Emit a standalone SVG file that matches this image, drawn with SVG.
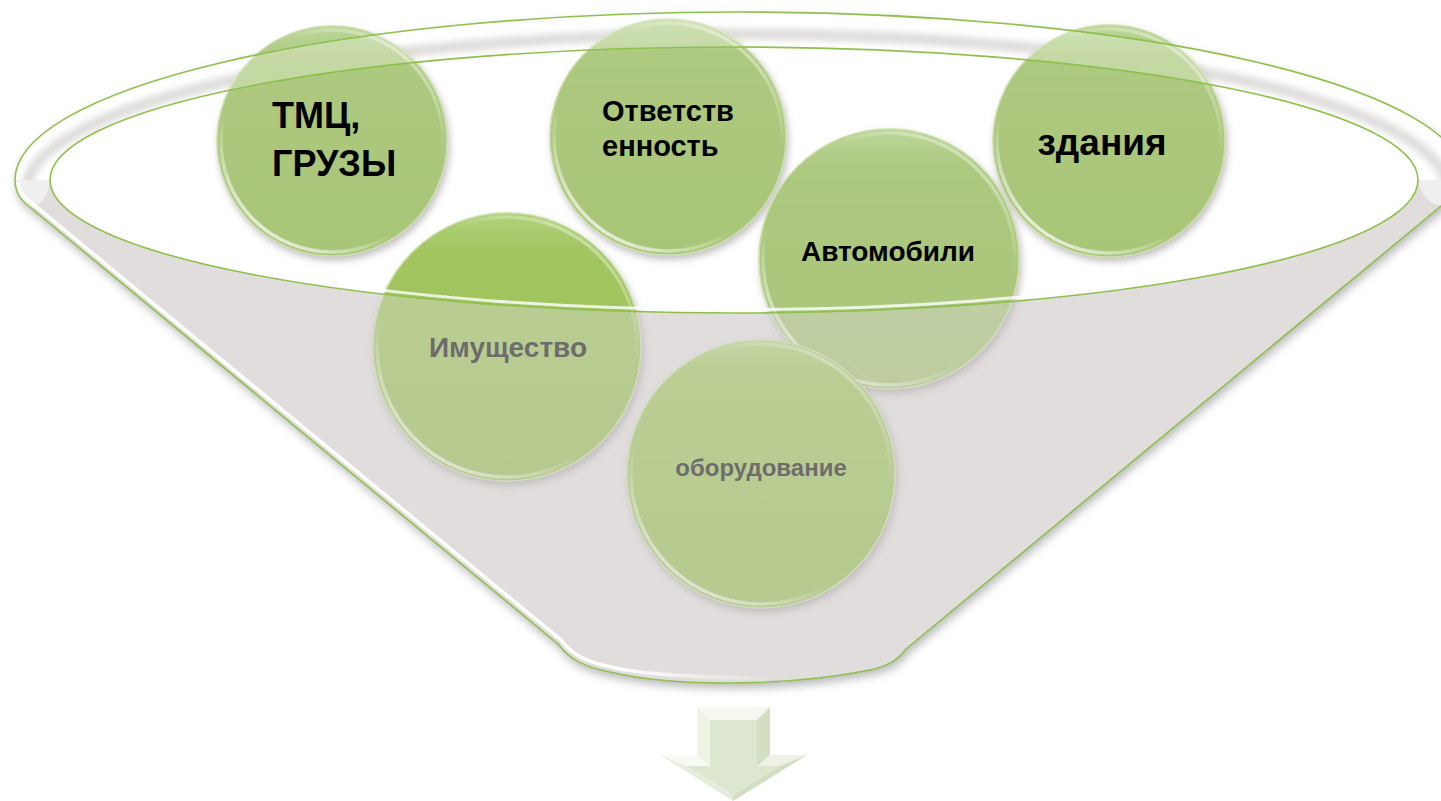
<svg xmlns="http://www.w3.org/2000/svg" width="1441" height="801" viewBox="0 0 1441 801">
  <defs>
    <style>
      .lbl { font-family: "Liberation Sans", Arial, "Noto Sans", sans-serif; font-weight: bold; fill: #000; }
      .lbl-in { fill: #1e1c1c; }
      .disc { stroke: #cadeab; stroke-width: 1.5; filter: url(#fDisc); }
      .ring { fill: none; stroke: url(#gRing); stroke-width: 3.5; }
      .gline { fill: none; stroke: #8fc04c; stroke-width: 1.6; }
    </style>
    <linearGradient id="gDisc" x1="0" y1="0" x2="0" y2="1">
      <stop offset="0" stop-color="#bdd699"/>
      <stop offset="0.14" stop-color="#aec980"/>
      <stop offset="1" stop-color="#a9c577"/>
    </linearGradient>
    <linearGradient id="gDiscV" x1="0" y1="0" x2="0" y2="1">
      <stop offset="0" stop-color="#b2d27a"/>
      <stop offset="0.14" stop-color="#a2c560"/>
      <stop offset="1" stop-color="#9cc05a"/>
    </linearGradient>
    <linearGradient id="gRing" x1="0.85" y1="0" x2="0.15" y2="1">
      <stop offset="0" stop-color="#fff" stop-opacity="0.55"/>
      <stop offset="0.3" stop-color="#fff" stop-opacity="0"/>
      <stop offset="0.65" stop-color="#fff" stop-opacity="0"/>
      <stop offset="1" stop-color="#fff" stop-opacity="0.9"/>
    </linearGradient>
    <linearGradient id="gHi" gradientUnits="userSpaceOnUse" x1="0" y1="0" x2="780" y2="0">
      <stop offset="0" stop-color="#fff" stop-opacity="1"/>
      <stop offset="0.78" stop-color="#fff" stop-opacity="1"/>
      <stop offset="1" stop-color="#fff" stop-opacity="0"/>
    </linearGradient>
    <filter id="fFunnel" x="-5%" y="-5%" width="110%" height="115%">
      <feDropShadow dx="2" dy="5" stdDeviation="5" flood-color="#000" flood-opacity="0.28"/>
    </filter>
    <filter id="fDisc" x="-15%" y="-15%" width="130%" height="135%">
      <feDropShadow dx="2" dy="4" stdDeviation="3.5" flood-color="#6a6262" flood-opacity="0.4"/>
    </filter>
    <filter id="fBlur" x="-5%" y="-20%" width="110%" height="140%">
      <feGaussianBlur stdDeviation="3"/>
    </filter>
    <clipPath id="cRimTop">
      <path d="M 15 180 A 725 168 0 0 1 1465 180 Z"/>
    </clipPath>
  </defs>

  <rect width="1441" height="801" fill="#fff"/>

  <!-- funnel back -->
  <g id="funnel-back">
    <path d="M 15 180 A 725 168 0 0 1 1465 180 L 1458 192 L 906 649 C 898 660 888 666 870 670 C 820 680 770 683 725 683 C 680 683 640 679 610 672 C 585 667 570 660 558 644 L 25 203 C 18 197 15 190 15 180 Z" fill="#e3e0df" filter="url(#fFunnel)"/>
    <path d="M 15 180 A 725 168 0 0 1 1465 180 L 1458 192 L 1441 206 C 1430 204 1420 195 1418 180 L 50 180 C 49 194 42 205 32 208 L 25 203 C 18 197 15 190 15 180 Z" fill="#ffffff"/>
    <g clip-path="url(#cRimTop)">
      <ellipse cx="737" cy="191" rx="711" ry="157" fill="none" stroke="#d3d0cf" stroke-width="11" filter="url(#fBlur)"/>
    </g>
    <ellipse cx="734" cy="180" rx="684" ry="133" fill="#ffffff"/>
  </g>

  <!-- nodes -->
  <g id="node-tmc">
    <circle class="disc" cx="332" cy="141" r="115" fill="url(#gDisc)"/>
    <circle class="ring" cx="332" cy="141" r="111"/>
    <text class="lbl" font-size="36" x="272" y="128">ТМЦ,</text>
    <text class="lbl" font-size="36" x="272" y="176">ГРУЗЫ</text>
  </g>
  <g id="node-otv">
    <circle class="disc" cx="668" cy="137" r="118" fill="url(#gDisc)"/>
    <circle class="ring" cx="668" cy="137" r="114"/>
    <text class="lbl" font-size="29" x="602" y="121">Ответств</text>
    <text class="lbl" font-size="29" x="602" y="156">енность</text>
  </g>
  <g id="node-zdaniya">
    <circle class="disc" cx="1109" cy="141" r="116" fill="url(#gDisc)"/>
    <circle class="ring" cx="1109" cy="141" r="112"/>
    <text class="lbl" font-size="37" x="1102" y="155" text-anchor="middle">здания</text>
  </g>
  <g id="node-imush">
    <circle class="disc" cx="507" cy="347" r="134" fill="url(#gDiscV)"/>
    <circle class="ring" cx="507" cy="347" r="130"/>
    <text class="lbl lbl-in" font-size="28" x="508" y="357" text-anchor="middle">Имущество</text>
  </g>
  <g id="node-avto">
    <circle class="disc" cx="889" cy="259" r="130" fill="url(#gDisc)"/>
    <circle class="ring" cx="889" cy="259" r="126"/>
    <text class="lbl" font-size="28" x="888" y="261" text-anchor="middle">Автомобили</text>
  </g>
  <g id="node-obor">
    <circle class="disc" cx="761" cy="474" r="134" fill="url(#gDiscV)"/>
    <circle class="ring" cx="761" cy="474" r="130"/>
    <text class="lbl lbl-in" font-size="24" x="761" y="476" text-anchor="middle">оборудование</text>
  </g>

  <!-- funnel front (translucent faces and outlines) -->
  <g id="funnel-front">
    <path d="M 50 180 A 684 133 0 0 0 1418 180 L 1465 180 L 1458 192 L 906 649 C 898 660 888 666 870 670 C 820 680 770 683 725 683 C 680 683 640 679 610 672 C 585 667 570 660 558 644 L 25 203 C 18 197 15 190 15 180 Z" fill="#dcd9d8" fill-opacity="0.42"/>
    <path d="M 15 180 A 725 168 0 0 1 1465 180 Z M 50 180 A 684 133 0 0 1 1418 180 Z" fill="#ffffff" fill-opacity="0.28" fill-rule="evenodd"/>
    <path d="M 52 184 A 684 136 0 0 0 1416 184" fill="none" stroke="#ffffff" stroke-width="3" stroke-opacity="0.8"/>
    <path d="M 18 182 C 19 191 22 196 28 200 L 561 640 C 572 655 587 662 611 667 C 640 674 690 678 780 678" fill="none" stroke="url(#gHi)" stroke-width="3.5"/>
    <path class="gline" d="M 15 180 A 725 168 0 0 1 1465 180 L 1458 192 L 906 649 C 898 660 888 666 870 670 C 820 680 770 683 725 683 C 680 683 640 679 610 672 C 585 667 570 660 558 644 L 25 203 C 18 197 15 190 15 180 Z"/>
    <ellipse class="gline" cx="734" cy="180" rx="684" ry="133"/>
  </g>

  <!-- down arrow -->
  <g id="arrow">
    <polygon points="710,720 757,720 757,766 780,766 733,795 686,766 710,766" fill="#dde7cf"/>
    <polygon points="697,707 770,707 757,720 710,720" fill="#f5f8f0"/>
    <polygon points="697,707 710,720 710,766 697,755" fill="#eef3e6"/>
    <polygon points="660,755 697,755 710,766 686,766" fill="#f7faf3"/>
    <polygon points="660,755 686,766 733,795 733,801" fill="#e6eddc"/>
    <polygon points="770,707 770,755 757,766 757,720" fill="#d3dfc3"/>
    <polygon points="770,755 807,755 780,766 757,766" fill="#edf2e5"/>
    <polygon points="807,755 733,801 733,795 780,766" fill="#d2dec2"/>
  </g>
</svg>
